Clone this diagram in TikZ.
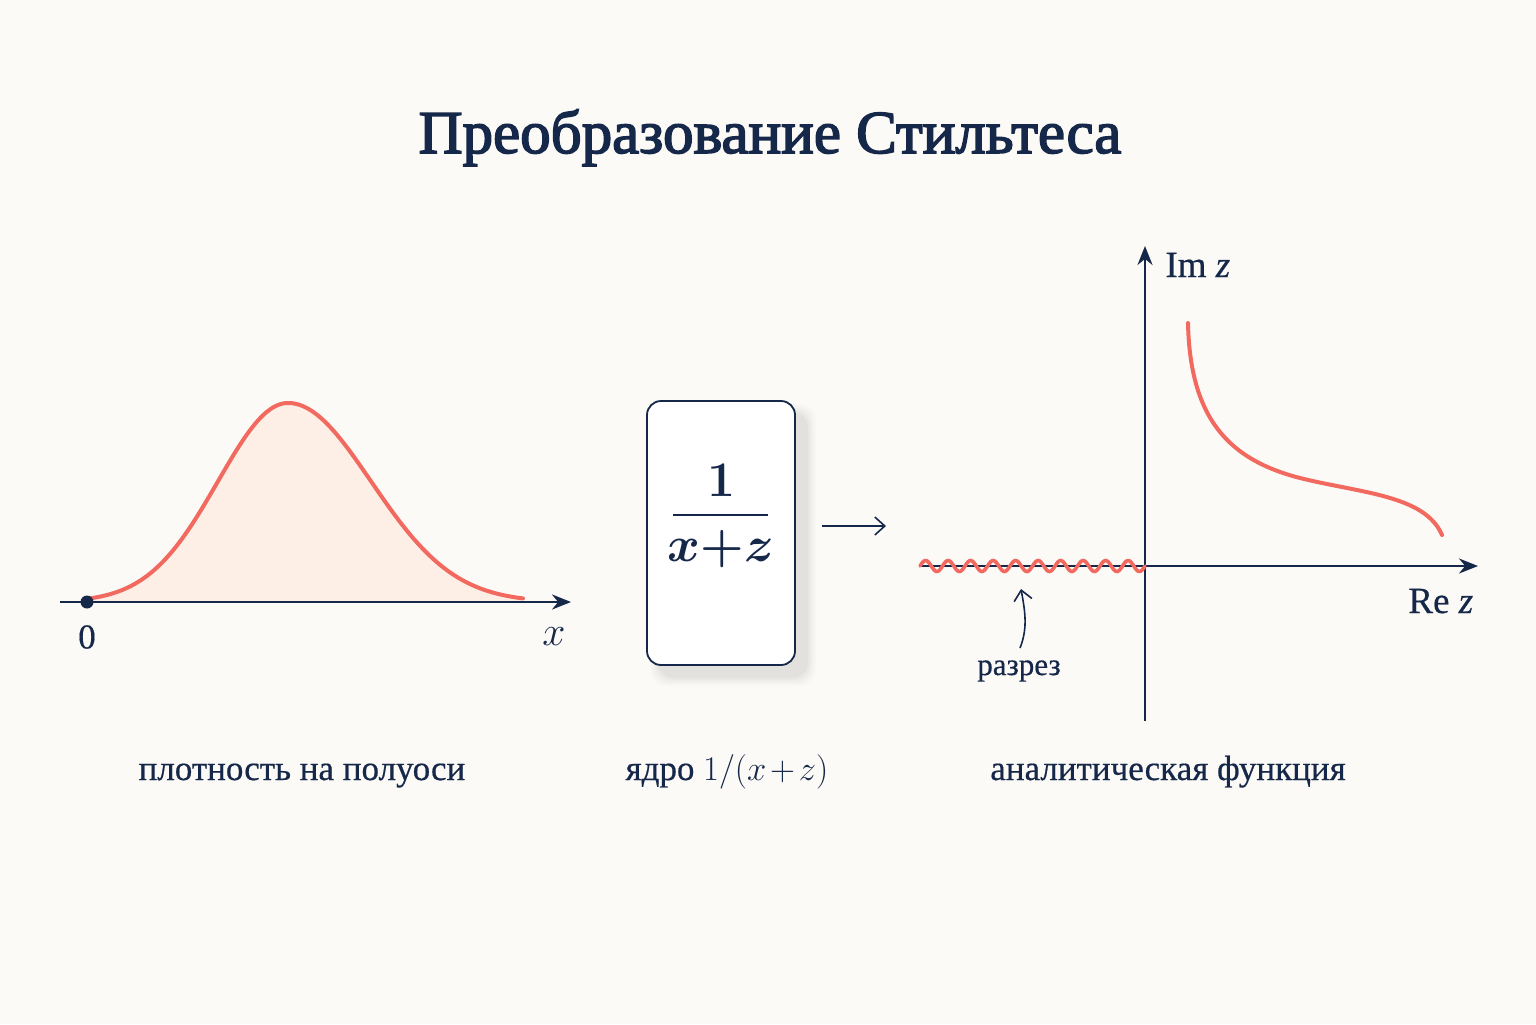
\documentclass[tikz,border=0pt]{standalone}
\usepackage{fontspec}
\setmainfont{Liberation Serif}
\newfontfamily\titlefont[FakeBold=2.5]{Liberation Serif}
\newfontfamily\capfont[FakeBold=0.5]{Liberation Serif}
\usetikzlibrary{arrows.meta}
\definecolor{navy}{HTML}{16284A}
\definecolor{redc}{HTML}{F26A5F}
\definecolor{fillc}{HTML}{FDEEE6}
\definecolor{bgc}{HTML}{FCFAF6}
\begin{document}
\begin{tikzpicture}[x=0.5pt,y=-0.5pt,
  axisline/.style={draw=navy, line width=1.3pt, -{Stealth[length=9.5pt,width=7.5pt]}},
  redcurve/.style={draw=redc, line width=2pt, line cap=round},
  lbl/.style={text=navy, font=\capfont\fontsize{17.5}{20}\selectfont, inner sep=0pt},
  thinarrow/.style={draw=navy, line width=0.8pt, -{Straight Barb[length=5pt,width=9pt]}},
  titlestyle/.style={text=navy, font=\titlefont\fontsize{30.5}{34}\selectfont, inner sep=0pt}
]
\useasboundingbox[fill=bgc] (0,0) rectangle (1536,1024);

% title
\node[titlestyle, anchor=base] (title) at (770,153) {Преобразование Стильтеса};

% ---- left panel: density on half-axis
\fill[fillc] plot[domain=87:288, samples=80] (\x, {602-199*exp(-((\x-288)/70)^2/2)})
  -- plot[domain=288:523, samples=100] (\x, {602-199*exp(-((\x-288)/83)^2/2)}) -- (523,602) -- (87,602) -- cycle;
\draw[redcurve] plot[domain=87:288, samples=80] (\x, {602-199*exp(-((\x-288)/70)^2/2)})
  -- plot[domain=288:523, samples=100] (\x, {602-199*exp(-((\x-288)/83)^2/2)});
\coordinate (lx0) at (60,602);
\coordinate (lx1) at (571,602);
\draw[axisline] (lx0) -- (lx1);
\node[circle, fill=navy, inner sep=0pt, minimum size=6.5pt] (origin) at (87,602) {};
\node[lbl] (zero) at (87,637) {0};
\node[lbl, font=\fontsize{20}{22}\selectfont] (xlab) at (554,637) {$x$};

% ---- middle: kernel box
\foreach \s/\o in {9/0.012,7/0.016,5/0.02,3/0.024,1/0.028}{
  \fill[black, opacity=\o, rounded corners=8pt] (659-\s,413-\s) rectangle (807+\s,677+\s);
}
\node[draw=navy, fill=white, rounded corners=7pt, line width=0.9pt,
      minimum width=74pt, minimum height=132pt, inner sep=0pt] (kern) at (721,533) {};
\node[text=navy, font=\fontsize{26}{30}\selectfont\boldmath, inner sep=0pt, anchor=base] (one) at (721,496) {$1$};
\coordinate (bar0) at (673,515);
\coordinate (bar1) at (768,515);
\draw[navy, line width=1.2pt] (bar0) -- (bar1);
\node[text=navy, font=\fontsize{23}{28}\selectfont\boldmath, inner sep=0pt, anchor=base] (den) at (721,561) {$x{+}z$};
\coordinate (ar0) at (822,526);
\coordinate (ar1) at (886,526);
\draw[thinarrow] (ar0) -- (ar1);

% ---- right panel: complex plane
\coordinate (re0) at (920,566);
\coordinate (re1) at (1478,566);
\coordinate (im0) at (1145,721);
\coordinate (im1) at (1145,246);
\draw[axisline] (re0) -- (re1);
\draw[axisline] (im0) -- (im1);
\node[lbl, font=\capfont\fontsize{18.5}{20}\selectfont, anchor=base west] (imz) at (1165,277) {Im \textit{z}};
\node[lbl, font=\capfont\fontsize{18.5}{20}\selectfont, anchor=base west] (rez) at (1408,613) {Re \textit{z}};
\coordinate (f0) at (1188,323);
\coordinate (f1) at (1300,478);
\coordinate (f2) at (1442,535);
\draw[redcurve] (f0) .. controls (1190,420) and (1230,460) .. (f1) .. controls (1360,493) and (1425,495) .. (f2);
\draw[redc, line width=1.8pt, line cap=round] plot[domain=920:1145, samples=180] (\x, {566-5.5*sin(16*(\x-920))});
\node[lbl, font=\capfont\fontsize{15.5}{17}\selectfont] (cut) at (1019,671) {разрез};
\draw[thinarrow] ([shift={(1,-12)}]cut.north) .. controls +(8,-20) and +(4,22) .. (1021,589);

% ---- captions
\node[lbl, anchor=base] (cap1) at (302,780) {плотность на полуоси};
\node[lbl, anchor=base] (cap2) at (727,780) {ядро $1/(x\mkern2mu{+}\mkern2mu z)$};
\node[lbl, anchor=base] (cap3) at (1168,780) {аналитическая функция};
\end{tikzpicture}
\end{document}
